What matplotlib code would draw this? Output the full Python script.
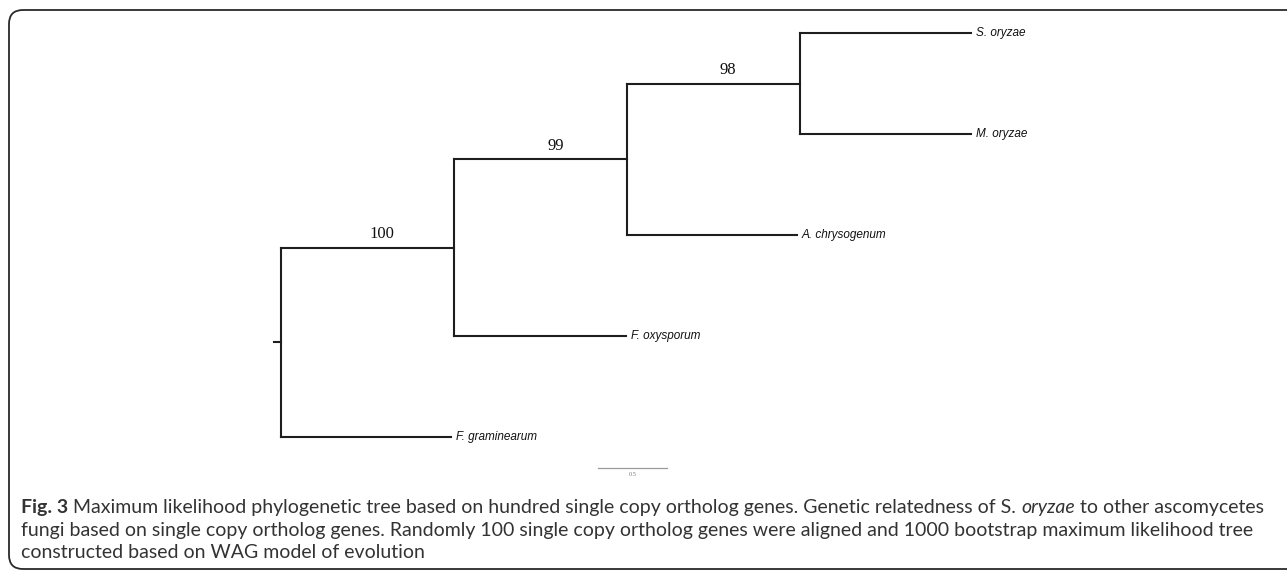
import matplotlib
matplotlib.use("Agg")
import matplotlib.pyplot as plt
from matplotlib.patches import FancyBboxPatch

# tips, top to bottom
taxa = ["S. oryzae", "M. oryzae", "A. chrysogenum", "F. oxysporum", "F. graminearum"]
tip_parent = ["n98", "n98", "n99", "n100", "root"]
tip_length = [1.24, 1.24, 1.23, 1.25, 1.23]

# internal nodes (parents listed before children)
node_names = ["root", "n100", "n99", "n98"]
node_parent = [None, "root", "n100", "n99"]
node_length = [0.0, 1.25, 1.26, 1.25]
node_support = [None, 100, 99, 98]

scale_len = 0.5

caption_lines = [
    [("Fig. 3", "bold", "normal"),
     (" Maximum likelihood phylogenetic tree based on hundred single copy ortholog genes. "
      "Genetic relatedness of S. ", "normal", "normal"),
     ("oryzae", "normal", "italic"),
     (" to other ascomycetes", "normal", "normal")],
    [("fungi based on single copy ortholog genes. Randomly 100 single copy ortholog genes "
      "were aligned and 1000 bootstrap maximum likelihood tree", "normal", "normal")],
    [("constructed based on WAG model of evolution", "normal", "normal")],
]

W, H = 1287, 575
PX_PER_UNIT = 138      # horizontal pixels per substitution/site
ROOT_PX = 281
TIP_TOP_PX = 33
TIP_STEP_PX = 101
LINE = "#1e1e1e"

fig = plt.figure(figsize=(W / 100, H / 100), dpi=100)

# background layer in pixel units: rounded frame + caption
bg = fig.add_axes([0, 0, 1, 1])
bg.set_xlim(0, W); bg.set_ylim(H, 0); bg.axis("off")
bg.add_patch(FancyBboxPatch((9, 10), 1330, 559,
                            boxstyle="round,pad=0,rounding_size=14",
                            fc="none", ec="#2a2a2a", lw=1.3))

cap_kw = dict(fontsize=14.0, family="Lato", color="#333333")
for baseline, segs in zip([513, 536, 558], caption_lines):
    prev = None
    for txt, weight, style in segs:
        if prev is None:
            prev = bg.text(21, baseline, txt, ha="left", va="baseline",
                           fontweight=weight, fontstyle=style, **cap_kw)
        else:
            prev = bg.annotate(txt, xy=(1, 0), xycoords=prev, ha="left", va="bottom",
                               fontweight=weight, fontstyle=style, **cap_kw)

# tree axes: x in branch-length units, y in tip index
X0, X1 = -0.3, 6.0
Y0, Y1 = -0.5, 4.6
left_px = ROOT_PX + X0 * PX_PER_UNIT
top_px = TIP_TOP_PX + Y0 * TIP_STEP_PX
w_px = (X1 - X0) * PX_PER_UNIT
h_px = (Y1 - Y0) * TIP_STEP_PX
ax = fig.add_axes([left_px / W, 1 - (top_px + h_px) / H, w_px / W, h_px / H])
ax.set_xlim(X0, X1); ax.set_ylim(Y1, Y0); ax.axis("off")

node_x = {}
for name, par, L in zip(node_names, node_parent, node_length):
    node_x[name] = (node_x[par] if par else 0.0) + L

node_y, node_span = {}, {}
for name in reversed(node_names):
    ys = [i for i, p in enumerate(tip_parent) if p == name]
    ys += [node_y[n] for n, p in zip(node_names, node_parent) if p == name]
    node_y[name] = (min(ys) + max(ys)) / 2
    node_span[name] = (min(ys), max(ys))

lkw = dict(color=LINE, lw=1.5, solid_capstyle="projecting")

for i, (name, par, L) in enumerate(zip(taxa, tip_parent, tip_length)):
    x0 = node_x[par]
    ax.plot([x0, x0 + L], [i, i], **lkw)
    ax.text(x0 + L + 0.035, i, name, ha="left", va="center", fontsize=8.5,
            family="Liberation Sans", fontstyle="italic", color="#111111")

for name, par, sup in zip(node_names, node_parent, node_support):
    ax.plot([node_x[name]] * 2, node_span[name], **lkw)
    if par is None:
        ax.plot([node_x[name] - 0.05, node_x[name]], [node_y[name]] * 2, **lkw)
        continue
    ax.plot([node_x[par], node_x[name]], [node_y[name]] * 2, **lkw)
    ax.annotate(str(sup), xy=(node_x[name] - 0.52, node_y[name]),
                xytext=(0, 4), textcoords="offset points", ha="center", va="bottom",
                fontsize=12, family="Liberation Serif", color="#111111")

# scale bar
sb_x, sb_y = 2.30, 4.31
ax.plot([sb_x, sb_x + scale_len], [sb_y, sb_y], color="#9a9a9a", lw=0.9)
ax.annotate(str(scale_len), xy=(sb_x + scale_len / 2, sb_y), xytext=(0, -3),
            textcoords="offset points", ha="center", va="top", fontsize=4.5,
            family="Liberation Serif", color="#777777")

fig.savefig("out.png", dpi=100)
